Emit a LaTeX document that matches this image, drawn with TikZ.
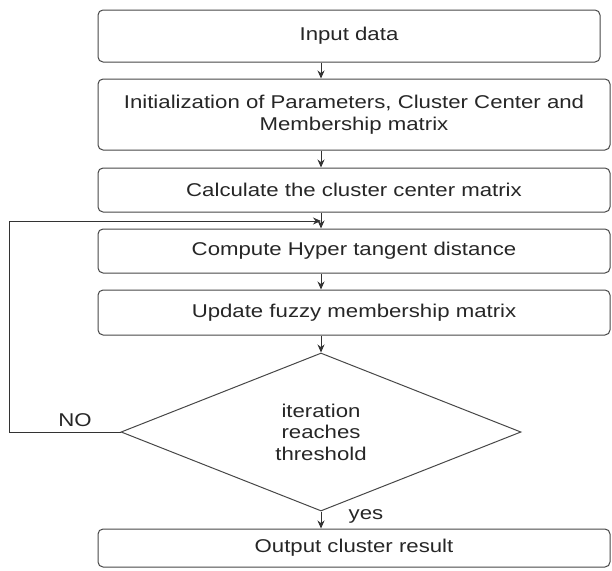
\documentclass[tikz,border=0pt]{standalone}
\usepackage{fontspec}
\setmainfont{Liberation Sans}[FakeStretch=1.2]
\usetikzlibrary{arrows.meta,shapes.geometric}
\begin{document}
\begin{tikzpicture}[x=1pt,y=-1pt,
  box/.style={draw=black!72, line width=1pt, rounded corners=5pt, text=black!85,
    font=\fontsize{18.5}{22}\selectfont, align=center, inner sep=0pt},
  dec/.style={draw=black!72, line width=1pt, diamond, text=black!85,
    font=\fontsize{18.5}{21.5}\selectfont, align=center, inner sep=0pt,
    minimum width=400pt, minimum height=158pt},
  lbl/.style={text=black!85, font=\fontsize{18.5}{22}\selectfont, inner sep=0pt},
  arr/.style={draw=black!80, line width=1pt, -{Stealth[length=8pt,width=7pt]}},
  ln/.style={draw=black!72, line width=1pt}]
\useasboundingbox (0,0) rectangle (612,570);
\node[box, minimum width=502pt, minimum height=52pt] (b1) at (349,36) {Input data};
\node[box, minimum width=512pt, minimum height=71pt] (b2) at (354,114.5) {Initialization of Parameters, Cluster Center and\\Membership matrix};
\node[box, minimum width=512pt, minimum height=44pt] (b3) at (354,190) {Calculate the cluster center matrix};
\node[box, minimum width=512pt, minimum height=44pt] (b4) at (354,251) {Compute Hyper tangent distance};
\node[box, minimum width=512pt, minimum height=45pt] (b5) at (354,312.5) {Update fuzzy membership matrix};
\node[dec] (d) at (321,432) {iteration\\reaches\\threshold};
\node[box, minimum width=512pt, minimum height=38pt] (b6) at (354,548) {Output cluster result};
\node[lbl] (no) at (75,420) {NO};
\node[lbl] (yes) at (366,516) {yes};
\coordinate (lc) at (9,221);
\coordinate (lt) at (321,221);
\draw[arr] (b1.south -| d) -- (b2.north -| d);
\draw[arr] (b2.south -| d) -- (b3.north -| d);
\draw[arr] (b3.south -| d) -- (b4.north -| d);
\draw[arr] (b4.south -| d) -- (b5.north -| d);
\draw[arr] (b5.south -| d) -- (d.north);
\draw[arr] (d.south) -- (b6.north -| d);
\draw[arr] (d.west) -| (lc) -- (lt);
\end{tikzpicture}
\end{document}
